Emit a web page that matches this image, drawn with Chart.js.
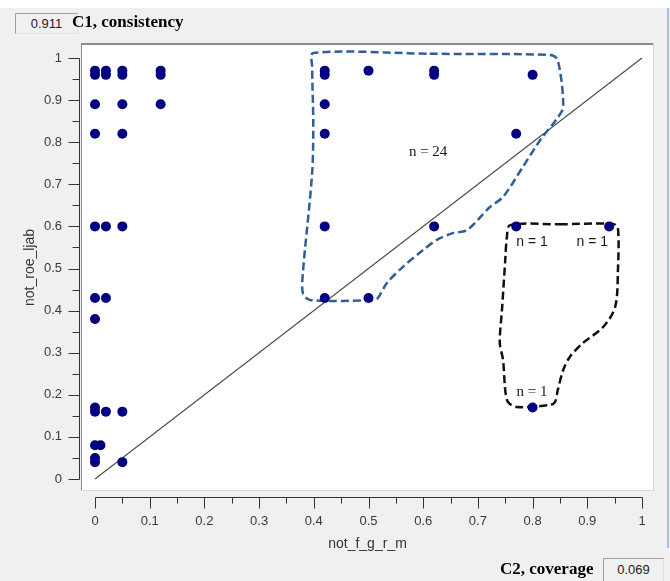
<!DOCTYPE html>
<html>
<head>
<meta charset="utf-8">
<script src="https://cdn.jsdelivr.net/npm/chart.js@4/dist/chart.umd.min.js"></script>
<style>
  html, body { margin: 0; padding: 0; background: #f0f0f0; }
  #wrap { position: relative; width: 670px; height: 581px; overflow: hidden; }
  #c { position: absolute; left: 0; top: 0; }
  .box { position: absolute; box-sizing: border-box; border: 1px solid; border-color: #a0a0a0 #e3e3e3 #e3e3e3 #a0a0a0;
         background: #f0f0f0; font: 13px "Liberation Sans", Arial, sans-serif; color: #222; text-align: center; }
  .cap { position: absolute; font: bold 17px "Liberation Serif", "Times New Roman", serif; color: #000; line-height: 17px; white-space: nowrap; }
</style>
</head>
<body>
<div id="wrap">
  <canvas id="c" width="670" height="581"></canvas>
  <div class="box" style="left:15px;top:13px;width:63px;height:21px;line-height:19px;">0.911</div>
  <div class="cap" style="left:72px;top:13px;">C1, consistency</div>
  <div class="cap" style="left:500px;top:560px;">C2, coverage</div>
  <div class="box" style="left:603px;top:558px;width:61px;height:26px;line-height:22px;">0.069</div>
</div>
<script>
// ---- data ----
const xTicks = [0, 0.1, 0.2, 0.3, 0.4, 0.5, 0.6, 0.7, 0.8, 0.9, 1];
const yTicks = [0, 0.1, 0.2, 0.3, 0.4, 0.5, 0.6, 0.7, 0.8, 0.9, 1];
const xTitle = "not_f_g_r_m";
const yTitle = "not_roe_ljab";

const caseX = [
  0, 0, 0.02, 0.02, 0.05, 0.05, 0.12, 0.12,
  0, 0.05, 0.12,
  0, 0.05,
  0, 0.02, 0.05,
  0, 0.02,
  0,
  0, 0, 0.02, 0.05,
  0, 0.01,
  0, 0, 0.05,
  0.42, 0.42, 0.42, 0.42, 0.42, 0.42,
  0.50, 0.50,
  0.62, 0.62, 0.62,
  0.80,
  0.77, 0.77,
  0.94,
  0.80
];
const caseY = [
  0.97, 0.96, 0.97, 0.96, 0.97, 0.96, 0.97, 0.96,
  0.89, 0.89, 0.89,
  0.82, 0.82,
  0.60, 0.60, 0.60,
  0.43, 0.43,
  0.38,
  0.17, 0.16, 0.16, 0.16,
  0.08, 0.08,
  0.05, 0.04, 0.04,
  0.97, 0.96, 0.89, 0.82, 0.60, 0.43,
  0.97, 0.43,
  0.97, 0.96, 0.60,
  0.96,
  0.82, 0.60,
  0.60,
  0.17
];

const diagX = [0, 1];
const diagY = [0, 1];

const blueOutlineX = [0.612, 0.832, 0.846, 0.856, 0.845, 0.814, 0.782, 0.746, 0.722, 0.680, 0.654, 0.625, 0.600, 0.563, 0.534, 0.517, 0.508, 0.393, 0.380, 0.380, 0.397, 0.399, 0.397, 0.399, 0.612];
const blueOutlineY = [1.010, 1.007, 0.995, 0.884, 0.857, 0.805, 0.741, 0.670, 0.646, 0.591, 0.584, 0.568, 0.544, 0.504, 0.466, 0.430, 0.425, 0.425, 0.442, 0.489, 0.727, 0.846, 0.979, 1.012, 1.010];

const blackOutlineX = [0.850, 0.947, 0.956, 0.956, 0.951, 0.929, 0.892, 0.868, 0.856, 0.846, 0.841, 0.832, 0.771, 0.755, 0.750, 0.746, 0.740, 0.744, 0.750, 0.753, 0.759, 0.850];
const blackOutlineY = [0.605, 0.606, 0.596, 0.496, 0.409, 0.361, 0.323, 0.290, 0.259, 0.211, 0.183, 0.176, 0.171, 0.183, 0.211, 0.283, 0.323, 0.401, 0.520, 0.575, 0.603, 0.605];

const noteText = ["n = 24", "n = 1", "n = 1", "n = 1"];
const noteX = [0.609, 0.799, 0.909, 0.799];
const noteY = [0.777, 0.563, 0.563, 0.207];
const noteSerif = [true, false, false, true];

// ---- helpers ----
const pts = (xs, ys) => xs.map((x, i) => ({ x: x, y: ys[i] }));

const framePlugin = {
  id: 'frame',
  beforeDraw(chart) {
    const ctx = chart.ctx, a = chart.chartArea;
    ctx.save();
    ctx.fillStyle = '#f0f0f0';
    ctx.fillRect(0, 0, chart.width, chart.height);
    ctx.fillStyle = '#ffffff';
    ctx.fillRect(0, 0, chart.width, 8);
    ctx.fillStyle = '#ffffff';
    ctx.fillRect(a.left, a.top, a.right - a.left, a.bottom - a.top);
    // sunken border
    ctx.fillStyle = '#8c8c8c';
    ctx.fillRect(a.left - 1, a.top - 2, a.right - a.left + 2, 2);
    ctx.fillRect(a.left - 1, a.top - 2, 1, a.bottom - a.top + 2);
    ctx.fillStyle = '#d8d8d8';
    ctx.fillRect(a.right, a.top - 2, 1, a.bottom - a.top + 3);
    ctx.fillRect(a.left - 1, a.bottom, a.right - a.left + 2, 1);
    // right window edge
    ctx.fillStyle = '#9cc3e6';
    ctx.fillRect(667, 8, 2, 540);
    ctx.restore();
  },
  afterDraw(chart) {
    const ctx = chart.ctx, xs = chart.scales.x, ys = chart.scales.y;
    ctx.save();
    ctx.strokeStyle = '#333333';
    ctx.lineWidth = 1;
    // y axis
    const ax = 79.5;
    const y0 = ys.getPixelForValue(yTicks[0]), y1 = ys.getPixelForValue(yTicks[yTicks.length - 1]);
    ctx.beginPath();
    ctx.moveTo(ax, Math.round(y0) + 0.5);
    ctx.lineTo(ax, Math.round(y1) + 0.5);
    for (let i = 0; i < yTicks.length; i++) {
      const p = Math.round(ys.getPixelForValue(yTicks[i])) + 0.5;
      ctx.moveTo(ax, p); ctx.lineTo(ax - 11, p);
      if (i < yTicks.length - 1) {
        const m = Math.round(ys.getPixelForValue((yTicks[i] + yTicks[i + 1]) / 2)) + 0.5;
        ctx.moveTo(ax, m); ctx.lineTo(ax - 7, m);
      }
    }
    // x axis
    const ay = 497.5;
    const x0 = xs.getPixelForValue(xTicks[0]), x1 = xs.getPixelForValue(xTicks[xTicks.length - 1]);
    ctx.moveTo(Math.round(x0) + 0.5, ay);
    ctx.lineTo(Math.round(x1) + 0.5, ay);
    for (let i = 0; i < xTicks.length; i++) {
      const p = Math.round(xs.getPixelForValue(xTicks[i])) + 0.5;
      ctx.moveTo(p, ay); ctx.lineTo(p, ay + 11);
      if (i < xTicks.length - 1) {
        const m = Math.round(xs.getPixelForValue((xTicks[i] + xTicks[i + 1]) / 2)) + 0.5;
        ctx.moveTo(m, ay); ctx.lineTo(m, ay + 6);
      }
    }
    ctx.stroke();
    ctx.restore();
  },
  afterDatasetsDraw(chart) {
    const ctx = chart.ctx, xs = chart.scales.x, ys = chart.scales.y;
    ctx.save();
    ctx.textAlign = 'center';
    ctx.textBaseline = 'middle';
    ctx.fillStyle = '#1a1a1a';
    for (let i = 0; i < noteText.length; i++) {
      ctx.font = noteSerif[i] ? '15px "Liberation Serif", "Times New Roman", serif' : '14px "Liberation Sans", Arial, sans-serif';
      ctx.fillText(noteText[i], xs.getPixelForValue(noteX[i]), ys.getPixelForValue(noteY[i]));
    }
    ctx.restore();
  }
};

// pixel layout: plot box 82..653 x 45..490; data 0..1 maps to 95..642 and 479..58
const X_MIN = -13 / 547, X_MAX = 1 + 11 / 547;
const Y_MIN = -11 / 421, Y_MAX = 1 + 13 / 421;

new Chart(document.getElementById('c'), {
  type: 'scatter',
  data: {
    datasets: [
      {
        label: 'cases',
        data: pts(caseX, caseY),
        pointRadius: 5,
        pointHoverRadius: 5,
        backgroundColor: '#000080',
        borderColor: '#000080',
        borderWidth: 0,
        order: 0
      },
      {
        label: 'outline24',
        data: pts(blueOutlineX, blueOutlineY),
        showLine: true,
        tension: 0.3,
        pointRadius: 0,
        borderColor: '#2f5f96',
        borderWidth: 2.5,
        borderDash: [8, 4],
        fill: false,
        clip: false,
        order: 1
      },
      {
        label: 'outline1',
        data: pts(blackOutlineX, blackOutlineY),
        showLine: true,
        tension: 0.3,
        pointRadius: 0,
        borderColor: '#111111',
        borderWidth: 2.5,
        borderDash: [8, 4],
        fill: false,
        clip: false,
        order: 2
      },
      {
        label: 'diagonal',
        data: pts(diagX, diagY),
        showLine: true,
        pointRadius: 0,
        borderColor: '#4a4a4a',
        borderWidth: 1.1,
        fill: false,
        order: 3
      }
    ]
  },
  options: {
    responsive: false,
    animation: false,
    devicePixelRatio: 1,
    events: [],
    layout: { padding: { left: 22, top: 45, right: 17, bottom: 28 } },
    plugins: { legend: { display: false }, tooltip: { enabled: false } },
    scales: {
      x: {
        type: 'linear',
        min: X_MIN, max: X_MAX,
        afterBuildTicks(scale) { scale.ticks = xTicks.map(v => ({ value: v })); },
        afterFit(scale) { scale.height = 63; },
        grid: { display: false, drawTicks: false },
        border: { display: false },
        ticks: {
          autoSkip: false, maxRotation: 0, padding: 24,
          color: '#3a3a3a',
          font: { family: '"Liberation Sans", Arial, sans-serif', size: 13 },
          callback: (v) => String(v)
        },
        title: {
          display: true, text: xTitle, padding: 0, color: '#333333',
          font: { family: '"Liberation Sans", Arial, sans-serif', size: 14 }
        }
      },
      y: {
        type: 'linear',
        min: Y_MIN, max: Y_MAX,
        afterBuildTicks(scale) { scale.ticks = yTicks.map(v => ({ value: v })); },
        afterFit(scale) { scale.width = 60; },
        grid: { display: false, drawTicks: false },
        border: { display: false },
        ticks: {
          autoSkip: false, padding: 20,
          color: '#3a3a3a',
          font: { family: '"Liberation Sans", Arial, sans-serif', size: 13 },
          callback: (v) => String(v)
        },
        title: {
          display: true, text: yTitle, padding: 0, color: '#333333',
          font: { family: '"Liberation Sans", Arial, sans-serif', size: 14 }
        }
      }
    }
  },
  plugins: [framePlugin]
});
</script>
</body>
</html>
